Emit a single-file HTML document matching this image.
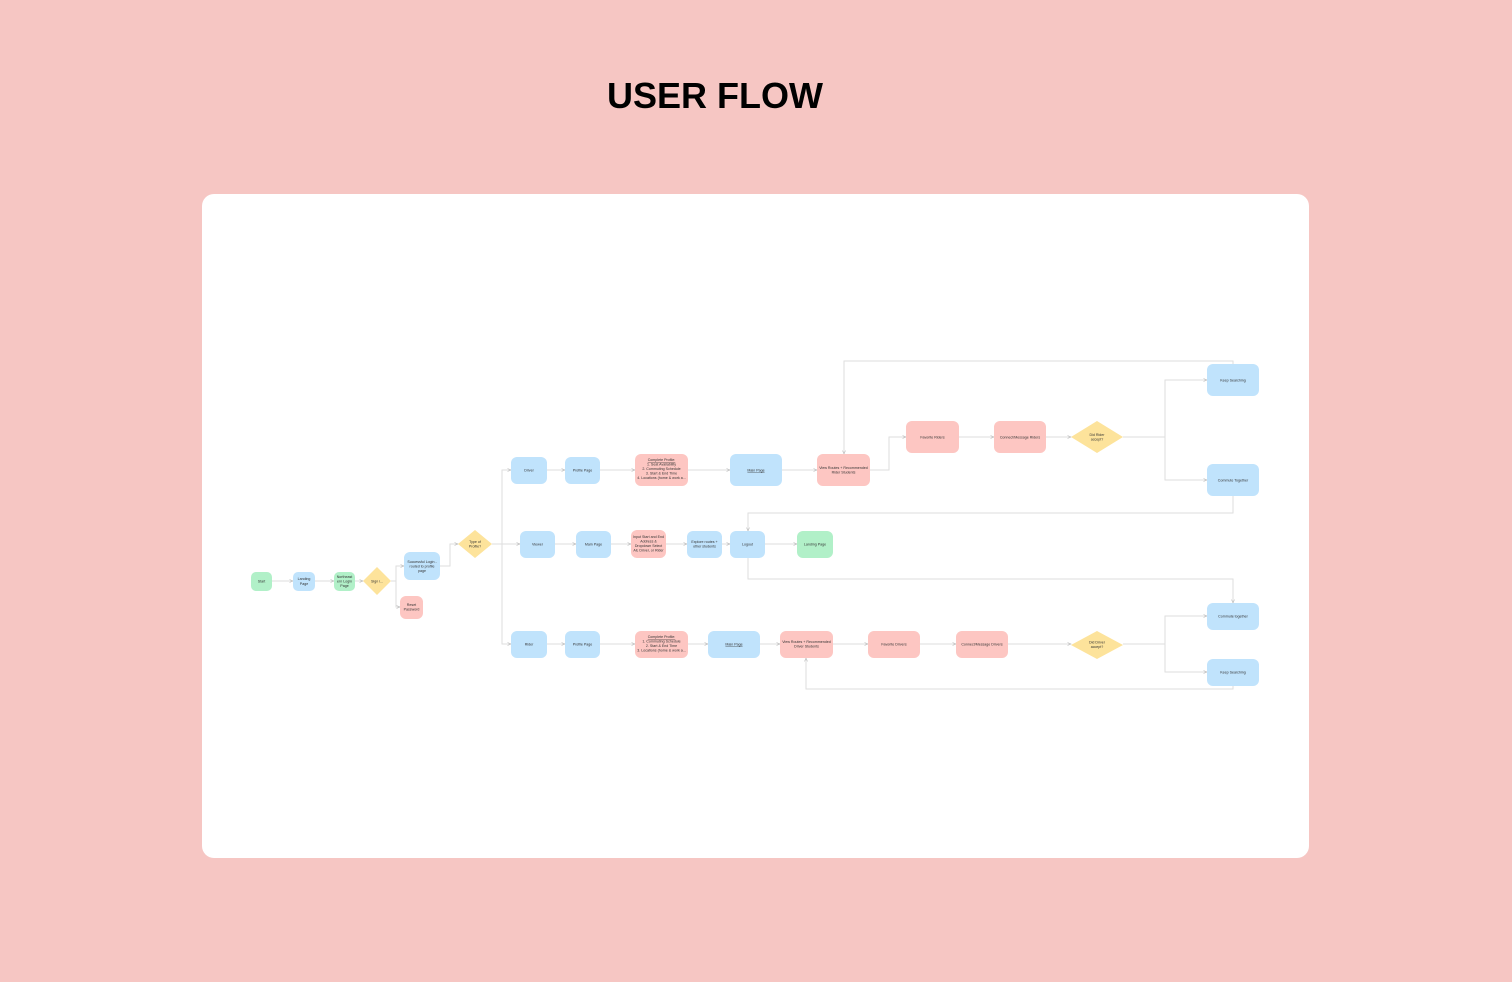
<!DOCTYPE html>
<html><head><meta charset="utf-8"><style>
html,body{margin:0;padding:0;width:1512px;height:982px;background:#f6c6c3;overflow:hidden}
h1{position:absolute;left:0;width:1430px;top:75px;margin:0;text-align:center;font:bold 36px "Liberation Sans",sans-serif;color:#000;letter-spacing:0}
.card{position:absolute;left:202px;top:194px;width:1107px;height:664px;background:#fff;border-radius:12px}
svg{position:absolute;left:0;top:0}
text{font-family:"Liberation Sans",sans-serif;font-size:3.6px;fill:#333;text-anchor:middle}
</style></head><body>
<h1>USER FLOW</h1>
<div class="card"></div>
<svg width="1512" height="982" viewBox="0 0 1512 982">
<defs><marker id="a" markerWidth="4" markerHeight="4" refX="3.5" refY="2" orient="auto"><path d="M0,0.5 L3.5,2 L0,3.5" fill="none" stroke="#bbb" stroke-width="0.6"/></marker></defs>
<g fill="none" stroke="#dedede" stroke-width="1" marker-end="url(#a)">
<path d="M272,581H293"/><path d="M315,581H334"/><path d="M355,581H363"/>
<path d="M391,581H396V566H404"/><path d="M396,581V607H400"/>
<path d="M440,566H450V544H458"/>
<path d="M492,544H520"/>
<path d="M502,544V470H511"/><path d="M502,544V644H511"/>
<path d="M547,470H565"/><path d="M600,470H635"/><path d="M688,470H730"/><path d="M782,470H817"/>
<path d="M870,470H889V437H906"/><path d="M959,437H994"/><path d="M1046,437H1071"/>
<path d="M1123,437H1165V380H1207"/><path d="M1165,437V480H1207"/>
<path d="M1233,364V361H844V454"/>
<path d="M1233,496V513H748V531"/>
<path d="M555,544H576"/><path d="M611,544H631"/><path d="M666,544H687"/><path d="M722,544H730"/><path d="M765,544H797"/>
<path d="M748,558V579H1233V603"/>
<path d="M547,644H565"/><path d="M600,644H635"/><path d="M688,644H708"/><path d="M760,644H780"/><path d="M833,644H868"/><path d="M920,644H956"/><path d="M1008,644H1071"/>
<path d="M1123,644H1165V616H1207"/><path d="M1165,644V672H1207"/>
<path d="M1233,686V689H806V658"/>
</g>
<g>
<rect x="251" y="572" width="21" height="19" rx="5" fill="#b1f0c8"/><text x="261.5" y="582.5">Start</text>
<rect x="293" y="572" width="22" height="19" rx="5" fill="#c0e3fc"/><text x="304" y="580">Landing</text><text x="304" y="585">Page</text>
<rect x="334" y="572" width="21" height="19" rx="5" fill="#b1f0c8"/><text x="344.5" y="578">Northeast</text><text x="344.5" y="582.5">ern Login</text><text x="344.5" y="587">Page</text>
<path d="M377,567L391,581L377,595L363,581Z" fill="#fde39b"/><text x="377" y="582.5">Sign i...</text>
<rect x="404" y="552" width="36" height="28" rx="6" fill="#c0e3fc"/><text x="422" y="563">Successful Login -</text><text x="422" y="567.5">routed to profile</text><text x="422" y="572">page</text>
<rect x="400" y="596" width="23" height="23" rx="6" fill="#fdc6c2"/><text x="411.5" y="606">Reset</text><text x="411.5" y="610.5">Password</text>
<path d="M475,530L492,544L475,558L458,544Z" fill="#fde39b"/><text x="475" y="543">Type of</text><text x="475" y="547.5">Profile?</text>
<rect x="511" y="457" width="36" height="27" rx="6" fill="#c0e3fc"/><text x="529" y="471.5">Driver</text>
<rect x="565" y="457" width="35" height="27" rx="6" fill="#c0e3fc"/><text x="582.5" y="471.5">Profile Page</text>
<rect x="635" y="454" width="53" height="32" rx="6" fill="#fdc6c2"/><text x="661.5" y="461" text-decoration="underline">Complete Profile:</text><text x="661.5" y="465.5">1. Seat Availability</text><text x="661.5" y="470">2. Commuting Schedule</text><text x="661.5" y="474.5">3. Start &amp; End Time</text><text x="661.5" y="479">4. Locations (home &amp; work a...</text>
<rect x="730" y="454" width="52" height="32" rx="6" fill="#c0e3fc"/><text x="756" y="471.5" text-decoration="underline">Main Page</text>
<rect x="817" y="454" width="53" height="32" rx="6" fill="#fdc6c2"/><text x="843.5" y="469">View Routes + Recommended</text><text x="843.5" y="473.5">Rider Students</text>
<rect x="906" y="421" width="53" height="32" rx="6" fill="#fdc6c2"/><text x="932.5" y="438.5">Favorite Riders</text>
<rect x="994" y="421" width="52" height="32" rx="6" fill="#fdc6c2"/><text x="1020" y="438.5">Connect/Message Riders</text>
<path d="M1097,421L1123,437L1097,453L1071,437Z" fill="#fde39b"/><text x="1097" y="436">Did Rider</text><text x="1097" y="440.5">accept?</text>
<rect x="1207" y="364" width="52" height="32" rx="6" fill="#c0e3fc"/><text x="1233" y="381.5">Keep Searching</text>
<rect x="1207" y="464" width="52" height="32" rx="6" fill="#c0e3fc"/><text x="1233" y="481.5">Commute Together</text>
<rect x="520" y="531" width="35" height="27" rx="6" fill="#c0e3fc"/><text x="537.5" y="545.5">Viewer</text>
<rect x="576" y="531" width="35" height="27" rx="6" fill="#c0e3fc"/><text x="593.5" y="545.5">Main Page</text>
<rect x="631" y="530" width="35" height="28" rx="6" fill="#fdc6c2"/><text x="648.5" y="538">Input Start and End</text><text x="648.5" y="542.5">Address &amp;</text><text x="648.5" y="547">Dropdown Select</text><text x="648.5" y="551.5">All, Driver, or Rider</text>
<rect x="687" y="531" width="35" height="27" rx="6" fill="#c0e3fc"/><text x="704.5" y="543">Explore routes +</text><text x="704.5" y="547.5">other students</text>
<rect x="730" y="531" width="35" height="27" rx="6" fill="#c0e3fc"/><text x="747.5" y="545.5">Logout</text>
<rect x="797" y="531" width="36" height="27" rx="6" fill="#b1f0c8"/><text x="815" y="545.5">Landing Page</text>
<rect x="511" y="631" width="36" height="27" rx="6" fill="#c0e3fc"/><text x="529" y="645.5">Rider</text>
<rect x="565" y="631" width="35" height="27" rx="6" fill="#c0e3fc"/><text x="582.5" y="645.5">Profile Page</text>
<rect x="635" y="631" width="53" height="27" rx="6" fill="#fdc6c2"/><text x="661.5" y="638" text-decoration="underline">Complete Profile:</text><text x="661.5" y="642.5">1. Commuting Schedule</text><text x="661.5" y="647">2. Start &amp; End Time</text><text x="661.5" y="651.5">3. Locations (home &amp; work a...</text>
<rect x="708" y="631" width="52" height="27" rx="6" fill="#c0e3fc"/><text x="734" y="645.5" text-decoration="underline">Main Page</text>
<rect x="780" y="631" width="53" height="27" rx="6" fill="#fdc6c2"/><text x="806.5" y="643">View Routes + Recommended</text><text x="806.5" y="647.5">Driver Students</text>
<rect x="868" y="631" width="52" height="27" rx="6" fill="#fdc6c2"/><text x="894" y="645.5">Favorite Drivers</text>
<rect x="956" y="631" width="52" height="27" rx="6" fill="#fdc6c2"/><text x="982" y="645.5">Connect/Message Drivers</text>
<path d="M1097,631L1123,645L1097,659L1071,645Z" fill="#fde39b"/><text x="1097" y="643.5">Did Driver</text><text x="1097" y="648">accept?</text>
<rect x="1207" y="603" width="52" height="27" rx="6" fill="#c0e3fc"/><text x="1233" y="617.5">Commute together</text>
<rect x="1207" y="659" width="52" height="27" rx="6" fill="#c0e3fc"/><text x="1233" y="673.5">Keep Searching</text>
</g>
</svg>
</body></html>
